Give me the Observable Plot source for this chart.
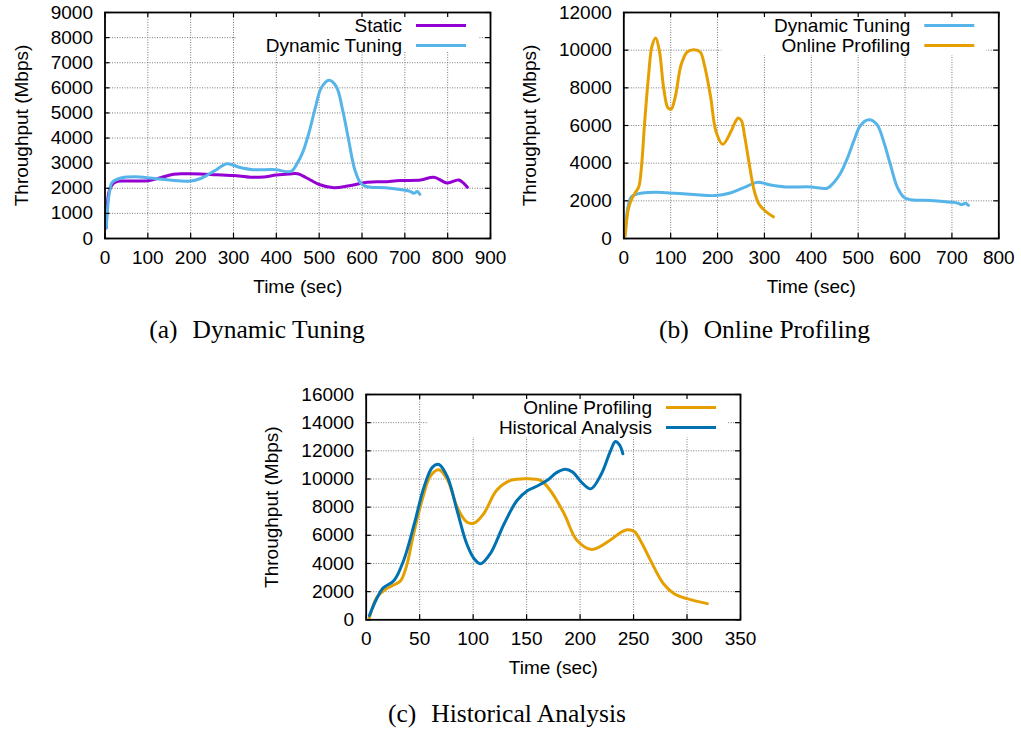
<!DOCTYPE html>
<html><head><meta charset="utf-8">
<script src="https://cdn.jsdelivr.net/npm/d3@7"></script>
<script src="https://cdn.jsdelivr.net/npm/@observablehq/plot@0.6"></script>
<style>
body{margin:0;background:#fff;}
#root{position:relative;width:1021px;height:732px;overflow:hidden;background:#fff;}
.panel{position:absolute;}
.cap{position:absolute;font-family:"Liberation Serif","Times New Roman",serif;font-size:25.5px;line-height:25.5px;white-space:nowrap;transform:translateX(-50%);color:#000;}
.cap .lab{margin-right:15px;}
</style></head><body><div id="root"></div>
<script>
// ---------- data ----------
const timeStatic = [3, 10, 20, 30, 50, 75, 100, 130, 160, 190, 223, 260, 300, 340, 370, 400, 430, 450, 470, 500, 534, 570, 612, 650, 690, 737, 768, 799, 826, 846];
const staticTput = [420, 1900, 2200, 2280, 2290, 2290, 2300, 2420, 2560, 2575, 2570, 2540, 2510, 2440, 2450, 2530, 2570, 2575, 2420, 2150, 2020, 2100, 2240, 2260, 2310, 2330, 2440, 2210, 2330, 2040];

const timeDynamic = [3, 10, 17, 40, 70, 110, 150, 195, 225, 256, 285, 313, 345, 398, 434, 449, 462, 476, 491, 505, 523, 540, 555, 569, 583, 597, 612, 654, 697, 712, 721, 729, 735];
const dynamicTput = [420, 1800, 2240, 2420, 2460, 2400, 2330, 2280, 2400, 2700, 2980, 2840, 2740, 2740, 2670, 3000, 3450, 4200, 5200, 6000, 6300, 6050, 5100, 3900, 2750, 2200, 2060, 2020, 1930, 1880, 1800, 1870, 1760];

const timeOnline = [3, 10, 17, 25, 32, 38, 44, 53, 60, 68, 76, 85, 94, 101, 110, 122, 135, 150, 163, 172, 185, 197, 211, 228, 237, 244, 251, 258, 266, 278, 288, 300, 319];
const onlineTput = [150, 1600, 2100, 2450, 2750, 3900, 6000, 8700, 10200, 10650, 9950, 8000, 6950, 6870, 7550, 9200, 9900, 10020, 9900, 9200, 7550, 5650, 5000, 5650, 6150, 6400, 6250, 5400, 4200, 2560, 1850, 1500, 1150];

const timeHistorical = [3, 9, 16, 26, 35, 45, 54, 62, 68, 76, 85, 94, 101, 107, 116, 129, 141, 151, 160, 170, 178, 186, 193, 201, 210, 220, 228, 233, 237, 240];
const historicalTput = [300, 1370, 2270, 2790, 4210, 6820, 9420, 10840, 11030, 10130, 7760, 5400, 4330, 3980, 4690, 6820, 8470, 9180, 9500, 9950, 10450, 10700, 10500, 9800, 9300, 10370, 11900, 12660, 12400, 11790];

const xTicksA = [0, 100, 200, 300, 400, 500, 600, 700, 800, 900];
const yTicksA = [0, 1000, 2000, 3000, 4000, 5000, 6000, 7000, 8000, 9000];
const xTicksB = [0, 100, 200, 300, 400, 500, 600, 700, 800];
const yTicksB = [0, 2000, 4000, 6000, 8000, 10000, 12000];
const xTicksC = [0, 50, 100, 150, 200, 250, 300, 350];
const yTicksC = [0, 2000, 4000, 6000, 8000, 10000, 12000, 14000, 16000];

const xLabel = "Time (sec)";
const yLabel = "Throughput (Mbps)";
const captions = [["(a)", "Dynamic Tuning"], ["(b)", "Online Profiling"], ["(c)", "Historical Analysis"]];

const colors = {
  "Static": "#9400d3",
  "Dynamic Tuning": "#56b4e9",
  "Online Profiling": "#e69f00",
  "Historical Analysis": "#0072b2"
};

// ---------- chart builder ----------
const SANS = "'Liberation Sans', Arial, Helvetica, sans-serif";
function makeChart(cfg) {
  const rows = cfg.series.flatMap(s => s.time.map((t, i) => ({series: s.name, t, v: s.values[i]})));
  const m = cfg.margin;
  const ph = cfg.height - m.top - m.bottom;
  const pw = cfg.width - m.left - m.right;
  const tickLen = 5;
  const names = cfg.series.map(s => s.name);
  const maxChars = d3.max(names, n => n.length);

  const legend = (index, scales, values, dims) => {
    const R = dims.width - dims.marginRight, T = dims.marginTop;
    const g = d3.create("svg:g");
    const textEnd = R - 88;
    g.append("rect")
      .attr("x", textEnd - maxChars * 11.8).attr("y", T + 1)
      .attr("width", (R - 12) - (textEnd - maxChars * 11.8)).attr("height", cfg.boxH)
      .attr("fill", "white");
    names.forEach((n, i) => {
      const y = T + 13.5 + i * 20;
      g.append("text").attr("x", textEnd).attr("y", y).attr("dy", "0.35em")
        .attr("text-anchor", "end").attr("fill", "black").text(n);
      g.append("line").attr("x1", R - 74).attr("x2", R - 24).attr("y1", y).attr("y2", y)
        .attr("stroke", colors[n]).attr("stroke-width", 3);
    });
    return g.node();
  };

  const gridStyle = {stroke: "#7a7a7a", strokeOpacity: 1, strokeWidth: 1, strokeDasharray: "1,1.5"};
  return Plot.plot({
    width: cfg.width, height: cfg.height,
    marginLeft: m.left, marginRight: m.right, marginTop: m.top, marginBottom: m.bottom,
    style: {fontFamily: SANS, fontSize: "19px", background: "white", color: "black", overflow: "visible"},
    x: {domain: cfg.xDomain},
    y: {domain: cfg.yDomain},
    marks: [
      Plot.gridX(cfg.xTicks, gridStyle),
      Plot.gridY(cfg.yTicks, gridStyle),
      legend,
      ...cfg.series.map(s => Plot.line(rows.filter(r => r.series === s.name),
        {x: "t", y: "v", stroke: colors[s.name], strokeWidth: 3, curve: "catmull-rom"})),
      Plot.tickX(cfg.xTicks, {x: d => d, insetTop: ph - tickLen, stroke: "black", strokeWidth: 1.2}),
      Plot.tickX(cfg.xTicks, {x: d => d, insetBottom: ph - tickLen, stroke: "black", strokeWidth: 1.2}),
      Plot.tickY(cfg.yTicks, {y: d => d, insetRight: pw - tickLen, stroke: "black", strokeWidth: 1.2}),
      Plot.tickY(cfg.yTicks, {y: d => d, insetLeft: pw - tickLen, stroke: "black", strokeWidth: 1.2}),
      Plot.axisX(cfg.xTicks, {tickSize: 0, tickPadding: 12, tickFormat: d => String(d), label: null}),
      Plot.axisY(cfg.yTicks, {tickSize: 0, tickPadding: 12, tickFormat: d => String(d), label: null}),
      Plot.text([xLabel], {text: d => d, frameAnchor: "bottom", dy: 48, lineAnchor: "middle", fill: "black"}),
      Plot.text([yLabel], {text: d => d, frameAnchor: "left", rotate: -90, dx: -cfg.yLabelOffset, lineAnchor: "middle", textAnchor: "middle", fill: "black"}),
      Plot.frame({stroke: "black", strokeWidth: 1.8})
    ]
  });
}

const root = document.getElementById("root");
function place(node, left, top) {
  const d = document.createElement("div");
  d.className = "panel";
  d.style.left = left + "px";
  d.style.top = top + "px";
  d.appendChild(node);
  root.appendChild(d);
}
function caption(c, cx, top) {
  const d = document.createElement("div");
  d.className = "cap";
  d.style.left = cx + "px";
  d.style.top = top + "px";
  const a = document.createElement("span"); a.className = "lab"; a.textContent = c[0];
  const b = document.createElement("span"); b.textContent = c[1];
  d.appendChild(a); d.appendChild(b);
  root.appendChild(d);
}

place(makeChart({
  width: 510, height: 300,
  margin: {left: 104.5, right: 20, top: 12, bottom: 62},
  xDomain: [0, 900], yDomain: [0, 9000], xTicks: xTicksA, yTicks: yTicksA,
  yLabelOffset: 83.5, boxH: 39,
  series: [
    {name: "Static", time: timeStatic, values: staticTput},
    {name: "Dynamic Tuning", time: timeDynamic, values: dynamicTput}
  ]
}), 0, 0);

place(makeChart({
  width: 511, height: 300,
  margin: {left: 113.3, right: 22.7, top: 12, bottom: 62},
  xDomain: [0, 800], yDomain: [0, 12000], xTicks: xTicksB, yTicks: yTicksB,
  yLabelOffset: 94, boxH: 42,
  series: [
    {name: "Dynamic Tuning", time: timeDynamic, values: dynamicTput},
    {name: "Online Profiling", time: timeOnline, values: onlineTput}
  ]
}), 510, 0);

place(makeChart({
  width: 520, height: 300,
  margin: {left: 115.7, right: 30, top: 14, bottom: 60.7},
  xDomain: [0, 350], yDomain: [0, 16000], xTicks: xTicksC, yTicks: yTicksC,
  yLabelOffset: 94, boxH: 42,
  series: [
    {name: "Online Profiling", time: timeOnline, values: onlineTput},
    {name: "Historical Analysis", time: timeHistorical, values: historicalTput}
  ]
}), 250, 380);

caption(captions[0], 257, 316.5);
caption(captions[1], 764.5, 316.5);
caption(captions[2], 507, 700.5);
</script>
</body></html>
